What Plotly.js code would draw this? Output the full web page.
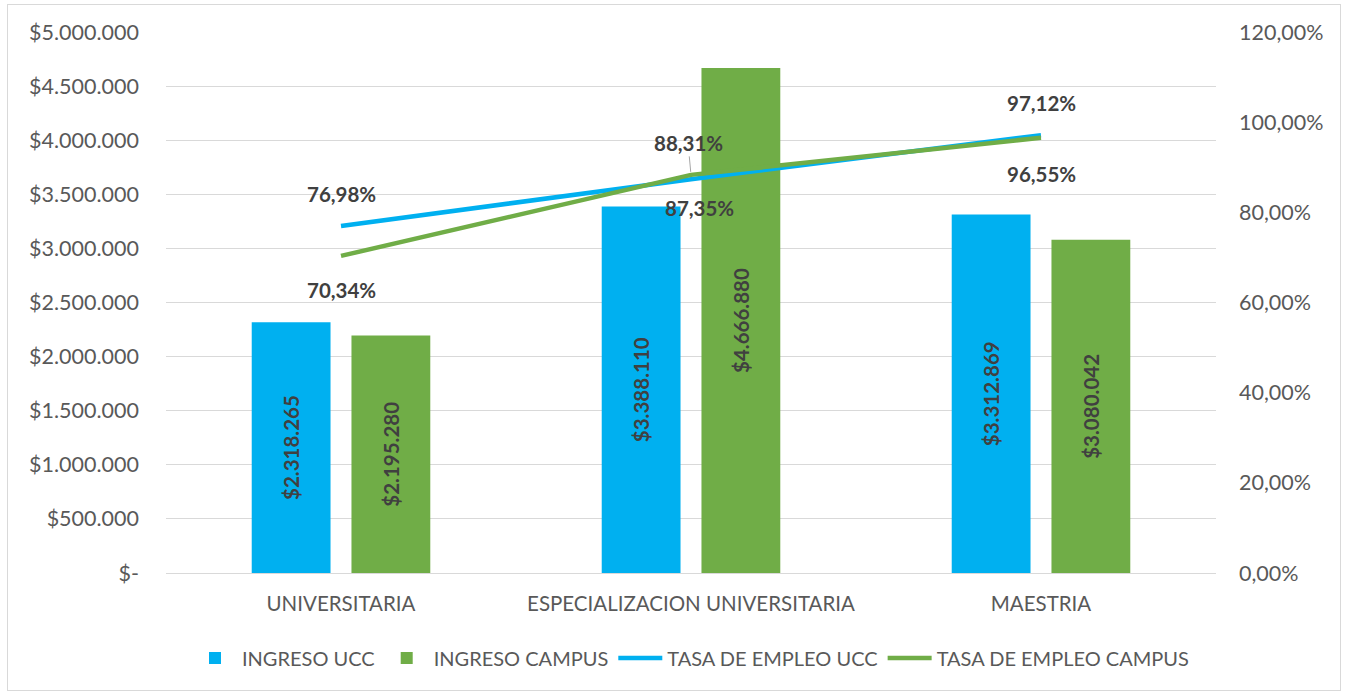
<!DOCTYPE html>
<html>
<head>
<meta charset="utf-8">
<script src="https://cdn.plot.ly/plotly-3.0.1.min.js"></script>
<style>
html,body{margin:0;padding:0;background:#fff;}
#chart{position:absolute;left:0;top:0;width:1347px;height:694px;}
#frame{position:absolute;left:7px;top:4px;width:1332px;height:685px;border:1px solid #d9d9d9;pointer-events:none;}
</style>
</head>
<body>
<div id="chart"></div>
<div id="frame"></div>
<script>
const categories = ["UNIVERSITARIA", "ESPECIALIZACION UNIVERSITARIA", "MAESTRIA"];
const ingresoUCC = [2318265, 3388110, 3312869];
const ingresoCampus = [2195280, 4666880, 3080042];
const tasaUCC = [0.7698, 0.8735, 0.9712];
const tasaCampus = [0.7034, 0.8831, 0.9655];
const leftTickVals = [0, 500000, 1000000, 1500000, 2000000, 2500000, 3000000, 3500000, 4000000, 4500000, 5000000];
const leftTickText = ["$-", "$500.000", "$1.000.000", "$1.500.000", "$2.000.000", "$2.500.000", "$3.000.000", "$3.500.000", "$4.000.000", "$4.500.000", "$5.000.000"];
const rightTickVals = [0, 0.2, 0.4, 0.6, 0.8, 1.0, 1.2];
const rightTickText = ["0,00%", "20,00%", "40,00%", "60,00%", "80,00%", "100,00%", "120,00%"];
const tasaUCCLabels = ["76,98%", "87,35%", "97,12%"];
const tasaCampusLabels = ["70,34%", "88,31%", "96,55%"];

const BLUE = "#00B0F0", GREEN = "#70AD47";
const FONT = "Lato, 'Open Sans', sans-serif";
const barText = {family: FONT, size: 20.5, color: "#404040", weight: 700};

const traces = [
  {type: "bar", name: "INGRESO UCC", x: categories, y: ingresoUCC, marker: {color: BLUE},
   texttemplate: "$%{y:,.0f}", textposition: "inside", insidetextanchor: "middle", textangle: -90,
   textfont: barText, hoverinfo: "skip", cliponaxis: false},
  {type: "bar", name: "INGRESO CAMPUS", x: categories, y: ingresoCampus, marker: {color: GREEN},
   texttemplate: "$%{y:,.0f}", textposition: "inside", insidetextanchor: "middle", textangle: -90,
   textfont: barText, hoverinfo: "skip", cliponaxis: false},
  {type: "scatter", mode: "lines", name: "TASA DE EMPLEO UCC", x: categories, y: tasaUCC, yaxis: "y2",
   line: {color: BLUE, width: 4.5}, hoverinfo: "skip"},
  {type: "scatter", mode: "lines", name: "TASA DE EMPLEO CAMPUS", x: categories, y: tasaCampus, yaxis: "y2",
   line: {color: GREEN, width: 4.5}, hoverinfo: "skip"}
];

const uccOffsets = [-32, 29, -32];
const uccShift = [0, 8, 0];
const campusOffsets = [34, -32, 36];
const campusShift = [0, -3, 0];
const annotations = [];
const labFont = {family: FONT, size: 20.5, color: "#404040", weight: 700};
categories.forEach((c, i) => {
  annotations.push({x: c, y: tasaUCC[i], xref: "x", yref: "y2", text: tasaUCCLabels[i],
    showarrow: true, arrowcolor: "rgba(0,0,0,0)", ax: uccShift[i], ay: uccOffsets[i], font: labFont});
  const leader = i === 1;
  annotations.push({x: c, y: tasaCampus[i], xref: "x", yref: "y2", text: tasaCampusLabels[i],
    showarrow: true, arrowhead: 0, arrowwidth: 1, standoff: 3,
    arrowcolor: leader ? "#a6a6a6" : "rgba(0,0,0,0)", ax: campusShift[i], ay: campusOffsets[i], font: labFont});
});

const layout = {
  width: 1347, height: 694,
  margin: {l: 166, r: 131, t: 32, b: 121, autoexpand: false},
  paper_bgcolor: "#ffffff", plot_bgcolor: "#ffffff",
  separators: ",.",
  font: {family: FONT, size: 20, color: "#595959"},
  barmode: "group", bargap: 0.43, bargroupgap: 0.21,
  showlegend: true,
  legend: {orientation: "h", x: 0.5, xanchor: "center", y: -0.157, yanchor: "middle",
    font: {family: FONT, size: 20, color: "#595959"}, itemwidth: 44, traceorder: "normal"},
  xaxis: {type: "category", showgrid: false, showline: false, ticks: "", ticklabelstandoff: 16,
    tickfont: {size: 20.5, color: "#595959"}},
  yaxis: {range: [0, 5000000], tickvals: leftTickVals, ticktext: leftTickText, showgrid: true,
    gridcolor: "#d9d9d9", gridwidth: 1, zeroline: true, zerolinecolor: "#d9d9d9", zerolinewidth: 1,
    showline: false, ticks: "", ticklabelstandoff: 26, tickfont: {size: 21.5, color: "#595959"}},
  yaxis2: {overlaying: "y", side: "right", range: [0, 1.2], tickvals: rightTickVals, ticktext: rightTickText,
    showgrid: false, zeroline: false, showline: false, ticks: "", ticklabelstandoff: 22,
    tickfont: {size: 21.5, color: "#595959"}},
  annotations: annotations
};

Plotly.newPlot("chart", traces, layout, {displayModeBar: false, staticPlot: true});
</script>
</body>
</html>
